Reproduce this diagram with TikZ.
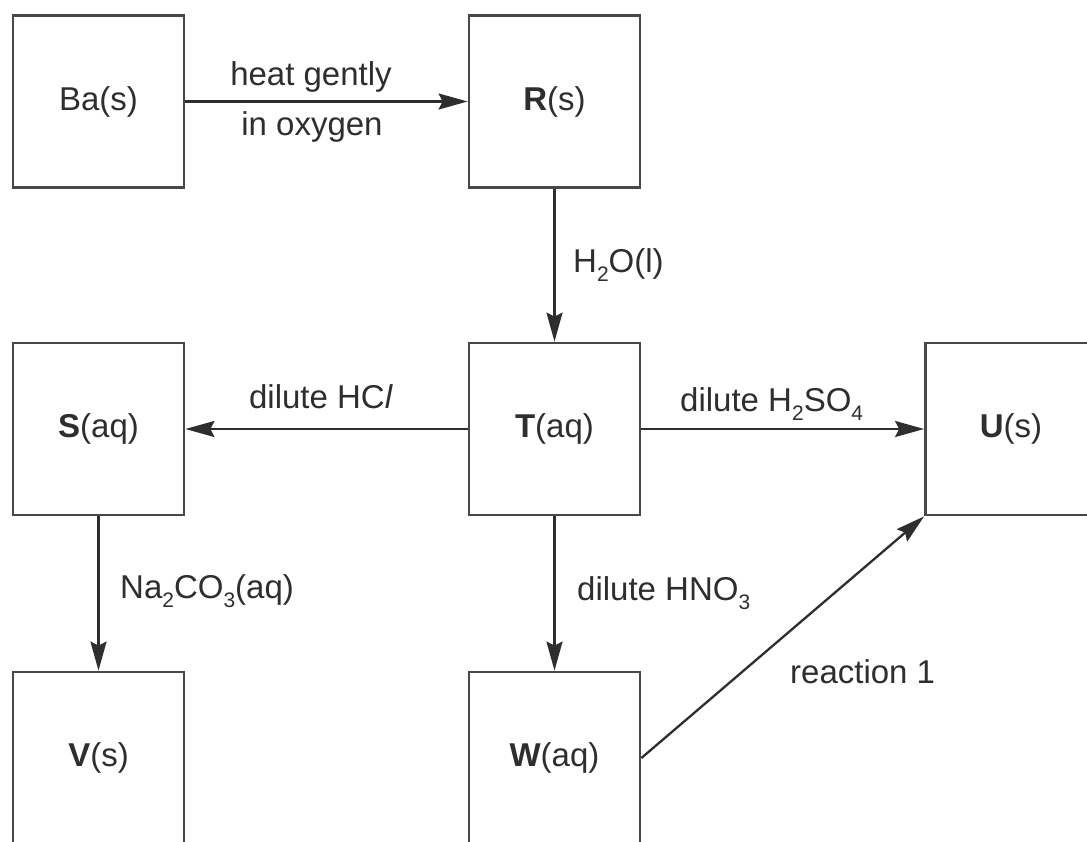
\documentclass[tikz,border=0pt]{standalone}
\usepackage{fontspec}
\setmainfont{Liberation Sans}
\usetikzlibrary{arrows.meta}
\definecolor{ink}{HTML}{2E2E2E}
\definecolor{edgegrey}{HTML}{484848}
\newcommand{\chemsub}[1]{\raisebox{-0.28em}{\fontsize{21}{21}\selectfont #1}}
\begin{document}
\begin{tikzpicture}[x=1pt,y=-1pt,
  box/.style={draw=edgegrey, line width=2.8pt, minimum width=171pt, minimum height=172pt,
    inner sep=0pt, font=\fontsize{33}{40}\selectfont, text=ink},
  flow/.style={draw=ink, line width=2.3pt, -{Stealth[length=29pt,width=16pt,inset=4pt]}},
  lbl/.style={font=\fontsize{33}{40}\selectfont, text=ink, inner sep=0pt}]
\useasboundingbox (0,0) rectangle (1087,841);
\clip (0,0) rectangle (1087,841);
\fill[white] (0,0) rectangle (1087,841);
% boxes
\node[box] (Ba) at (98.5,101.5) {Ba(s)};
\node[box] (R)  at (554.5,101.5) {\textbf{R}(s)};
\node[box] (S)  at (98.5,429) {\textbf{S}(aq)};
\node[box] (T)  at (554.5,429) {\textbf{T}(aq)};
\node[box] (U)  at (1011,429) {\textbf{U}(s)};
\node[box] (V)  at (98.5,758) {\textbf{V}(s)};
\node[box] (W)  at (554.5,758) {\textbf{W}(aq)};
% connectors
\draw[flow] (Ba) -- (R);
\draw[flow] (R) -- (T);
\draw[flow] (T) -- (S);
\draw[flow] (T) -- (U);
\draw[flow] (S) -- (V);
\draw[flow] (T) -- (W);
\draw[flow] (W.east) -- (U.south west);
% labels
\node[lbl, anchor=base] (l1) at (311,85) {heat gently};
\node[lbl, anchor=base] (l2) at (312,135) {in oxygen};
\node[lbl, anchor=base west] (l3) at (573,272) {H\chemsub{2}O(l)};
\node[lbl, anchor=base] (l4) at (321,408) {dilute HC\textit{l}};
\node[lbl, anchor=base west] (l5) at (680,411) {dilute H\chemsub{2}SO\chemsub{4}};
\node[lbl, anchor=base west] (l6) at (120,598) {Na\chemsub{2}CO\chemsub{3}(aq)};
\node[lbl, anchor=base west] (l7) at (577,600) {dilute HNO\chemsub{3}};
\node[lbl, anchor=base west] (l8) at (790,683) {reaction 1};
\end{tikzpicture}
\end{document}
